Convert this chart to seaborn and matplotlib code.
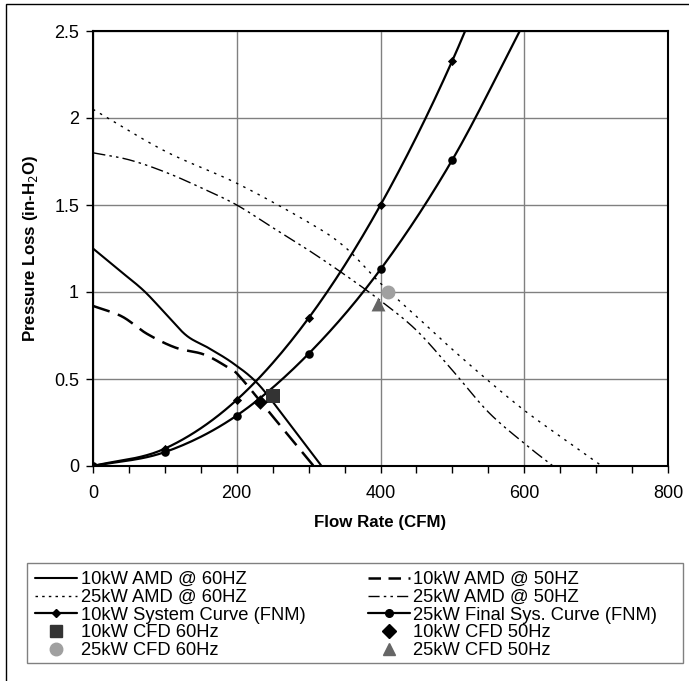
import numpy as np
import pandas as pd
import matplotlib
matplotlib.use("Agg")
import matplotlib.pyplot as plt
from matplotlib.lines import Line2D
from matplotlib.patches import Rectangle
from matplotlib.ticker import MultipleLocator
import seaborn as sns

# ---------------- data ----------------
fan10_60_x = [0, 35, 70, 100, 130, 160, 195, 230, 270, 318]
fan10_60_y = [1.25, 1.13, 1.01, 0.88, 0.75, 0.68, 0.59, 0.47, 0.26, 0.0]

fan10_50_x = [0, 40, 75, 115, 155, 190, 205, 250, 307]
fan10_50_y = [0.92, 0.86, 0.76, 0.68, 0.64, 0.56, 0.51, 0.285, 0.0]

fan25_60_x = [0, 100, 200, 300, 350, 400, 450, 500, 550, 600, 650, 708]
fan25_60_y = [2.05, 1.81, 1.625, 1.40, 1.26, 1.05, 0.86, 0.67, 0.49, 0.32, 0.17, 0.0]

fan25_50_x = [0, 50, 100, 150, 200, 250, 300, 350, 400, 450, 500, 550, 600, 640]
fan25_50_y = [1.80, 1.76, 1.69, 1.60, 1.50, 1.37, 1.24, 1.10, 0.95, 0.78, 0.55, 0.31, 0.13, 0.0]

sys_x = [0, 100, 200, 300, 400, 500, 600]
sys10_y = [0, 0.10, 0.38, 0.85, 1.50, 2.33, 3.35]
sys25_y = [0, 0.08, 0.29, 0.645, 1.13, 1.76, 2.55]

cfd10_60 = (250, 0.40)
cfd10_50 = (233, 0.37)
cfd25_60 = (410, 1.00)
cfd25_50 = (397, 0.93)

labels = ["10kW AMD @ 60HZ", "10kW AMD @ 50HZ",
          "25kW AMD @ 60HZ", "25kW AMD @ 50HZ",
          "10kW System Curve (FNM)", "25kW Final Sys. Curve (FNM)",
          "10kW CFD 60Hz", "10kW CFD 50Hz",
          "25kW CFD 60Hz", "25kW CFD 50Hz"]


def smooth(xs, ys, n=24):
    """Catmull-Rom path through the points (like Excel's smoothed line)."""
    p = np.column_stack([xs, ys]).astype(float)
    p = np.vstack([2 * p[0] - p[1], p, 2 * p[-1] - p[-2]])
    out = []
    t = np.linspace(0, 1, n, endpoint=False)[:, None]
    for i in range(1, len(p) - 2):
        p0, p1, p2, p3 = p[i - 1], p[i], p[i + 1], p[i + 2]
        seg = 0.5 * ((2 * p1) + (-p0 + p2) * t + (2 * p0 - 5 * p1 + 4 * p2 - p3) * t ** 2
                     + (-p0 + 3 * p1 - 3 * p2 + p3) * t ** 3)
        out.append(seg)
    out.append(p[-2][None, :])
    out = np.vstack(out)
    return out[:, 0], out[:, 1]


sns.set_theme(style="white")
plt.rcParams['font.family'] = ['Liberation Sans', 'DejaVu Sans']
plt.rcParams['text.color'] = 'black'
plt.rcParams['axes.labelcolor'] = 'black'
plt.rcParams['xtick.color'] = 'black'
plt.rcParams['ytick.color'] = 'black'

W, H = 689, 681
fig = plt.figure(figsize=(W / 100, H / 100), dpi=100)
ax = fig.add_axes([93 / W, 1 - 466 / H, 575 / W, 435 / H])

# outer chart-area border
fig.patches.append(Rectangle((6 / W, -0.05), 1.2, 1 - 4 / H + 0.05,
                             transform=fig.transFigure, fill=False,
                             edgecolor='black', lw=1.0, zorder=0))
# legend frame
fig.patches.append(Rectangle((27 / W, 1 - 663 / H), 656 / W, 100 / H,
                             transform=fig.transFigure, fill=False,
                             edgecolor='#808080', lw=1.0, zorder=1))


def line(xs, ys, **kw):
    sx, sy = smooth(xs, ys)
    df = pd.DataFrame({"x": sx, "y": sy})
    sns.lineplot(data=df, x="x", y="y", ax=ax, sort=False, estimator=None,
                 color='black', **kw)


line(fan10_60_x, fan10_60_y, lw=1.5)
line(fan10_50_x, fan10_50_y, lw=1.8, dashes=(7, 3.5))
line(fan25_60_x, fan25_60_y, lw=1.0, dashes=(1.8, 4))
line(fan25_50_x, fan25_50_y, lw=1.0, dashes=(9, 3, 1.8, 3, 1.8, 3))
line(sys_x, sys10_y, lw=1.6)
line(sys_x, sys25_y, lw=1.6)

sns.scatterplot(x=sys_x, y=sys10_y, ax=ax, marker='D', s=22, color='black',
                edgecolor='black', linewidth=0, zorder=5)
sns.scatterplot(x=sys_x, y=sys25_y, ax=ax, marker='o', s=38, color='black',
                edgecolor='black', linewidth=0, zorder=5)

sns.scatterplot(x=[cfd10_60[0]], y=[cfd10_60[1]], ax=ax, marker='s', s=95,
                color='#333333', linewidth=0, zorder=6)
sns.scatterplot(x=[cfd10_50[0]], y=[cfd10_50[1]], ax=ax, marker='D', s=55,
                color='black', linewidth=0, zorder=6)
sns.scatterplot(x=[cfd25_60[0]], y=[cfd25_60[1]], ax=ax, marker='o', s=100,
                color='#a0a0a0', linewidth=0, zorder=6)
sns.scatterplot(x=[cfd25_50[0]], y=[cfd25_50[1]], ax=ax, marker='^', s=100,
                color='#666666', linewidth=0, zorder=6)

ax.set_xlim(0, 800)
ax.set_ylim(0, 2.5)
ax.xaxis.set_major_locator(MultipleLocator(200))
ax.xaxis.set_minor_locator(MultipleLocator(50))
ax.set_yticks([0, 0.5, 1, 1.5, 2, 2.5])
ax.set_yticklabels(['0', '0.5', '1', '1.5', '2', '2.5'])
ax.grid(True, which='major', color='#808080', lw=1.0)
ax.set_axisbelow(True)
ax.tick_params(axis='both', which='both', direction='out', length=5, width=1,
               color='black', labelcolor='black', labelsize=13,
               bottom=True, left=True)
ax.tick_params(axis='x', which='minor', length=5)
ax.tick_params(axis='x', pad=9)
ax.tick_params(axis='y', pad=5)
for s in ax.spines.values():
    s.set_color('black')
    s.set_linewidth(1.5)

ax.set_xlabel("Flow Rate (CFM)", fontsize=12.2, fontweight='bold', labelpad=9)
ax.set_ylabel("Pressure Loss (in-H$_2$O)", fontsize=12.2, fontweight='bold', labelpad=10)

handles = [
    Line2D([], [], color='black', lw=1.5),
    Line2D([], [], color='black', lw=1.8, dashes=(5, 3)),
    Line2D([], [], color='black', lw=1.0, dashes=(1.8, 3)),
    Line2D([], [], color='black', lw=1.0, dashes=(8, 3, 1.8, 3, 1.8, 3)),
    Line2D([], [], color='black', lw=1.6, marker='D', markersize=4.5),
    Line2D([], [], color='black', lw=1.6, marker='o', markersize=5.5),
    Line2D([], [], ls='none', marker='s', markersize=9, color='#333333'),
    Line2D([], [], ls='none', marker='D', markersize=7, color='black'),
    Line2D([], [], ls='none', marker='o', markersize=9, color='#a0a0a0'),
    Line2D([], [], ls='none', marker='^', markersize=9, color='#666666'),
]
order = [0, 2, 4, 6, 8, 1, 3, 5, 7, 9]
leg = fig.legend([handles[i] for i in order], [labels[i] for i in order],
                 ncol=2, loc='upper left',
                 bbox_to_anchor=(27 / W, 1 - 563 / H),
                 fontsize=13.2, frameon=False,
                 borderpad=0.45, labelspacing=0.04,
                 handlelength=2.3, handletextpad=0.17, columnspacing=3.4,
                 borderaxespad=0)

fig.savefig("out.png", dpi=100, facecolor='white')
